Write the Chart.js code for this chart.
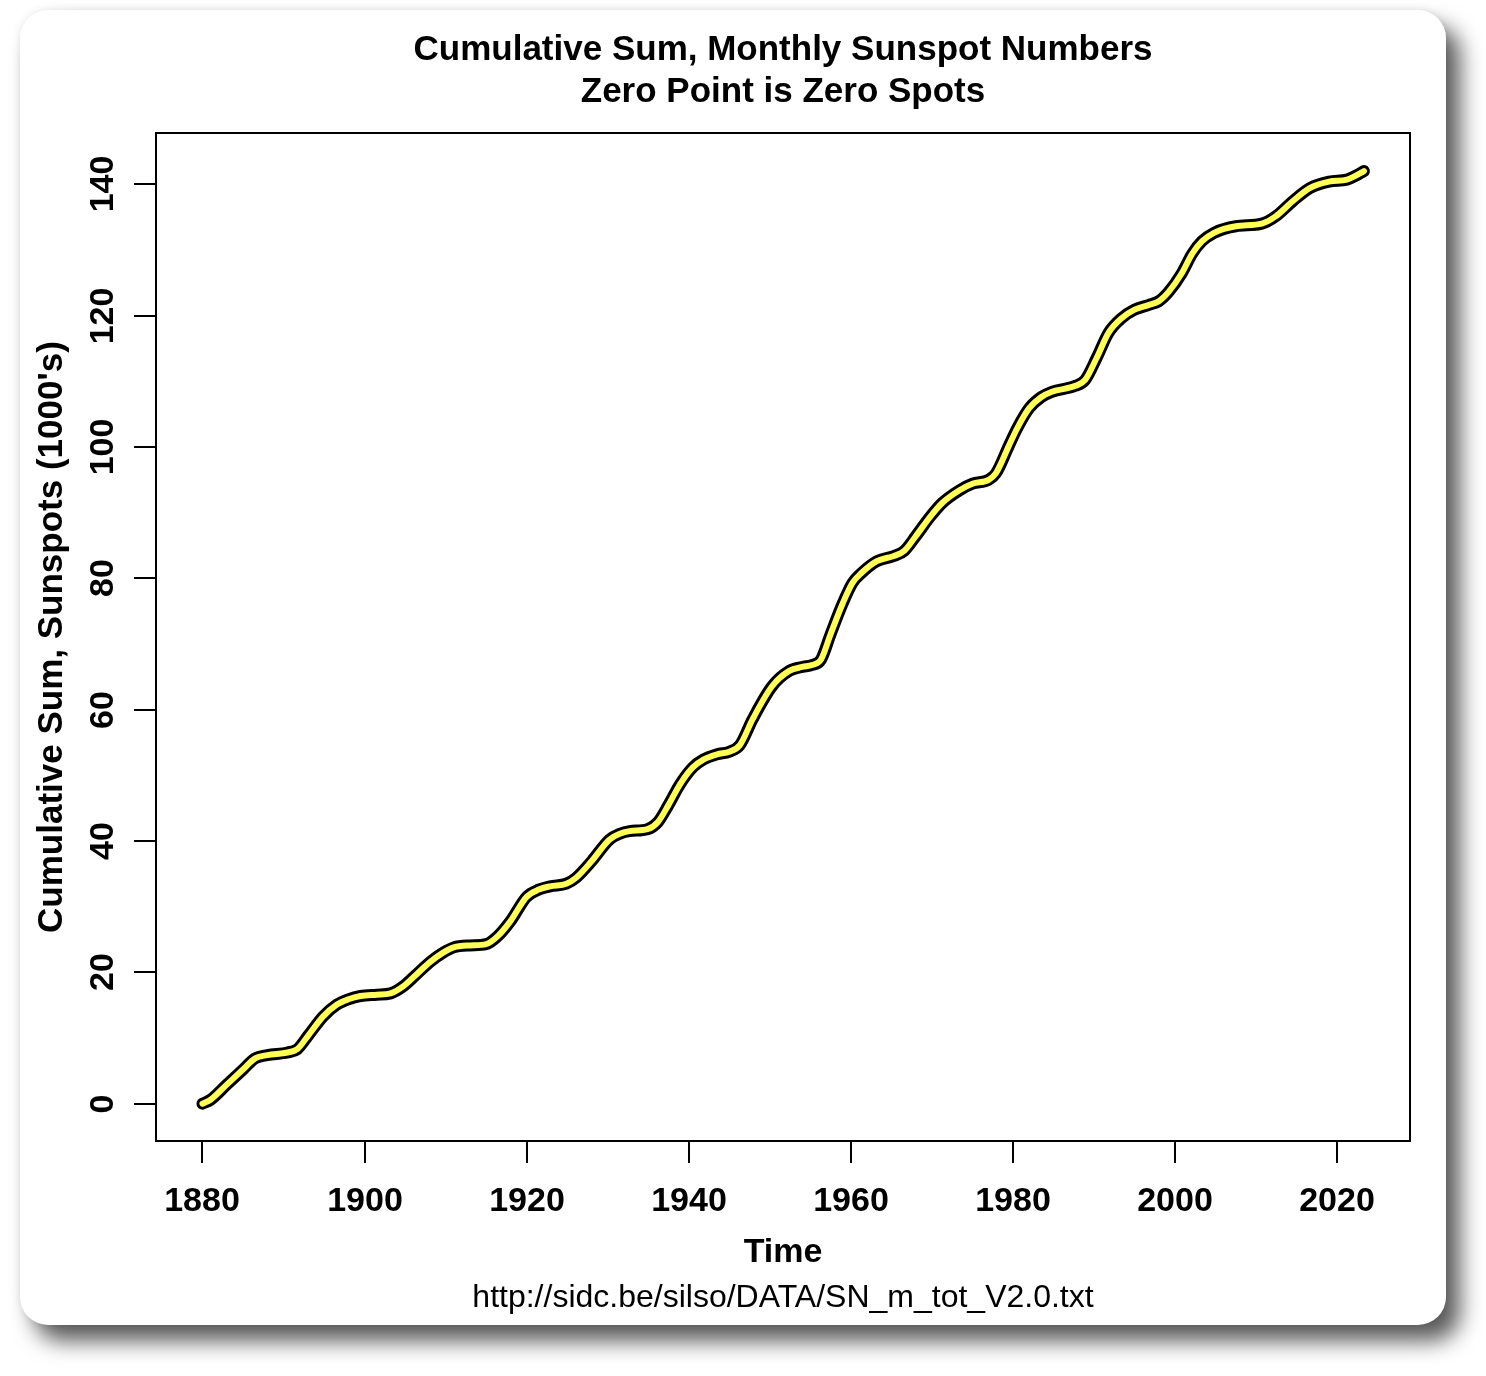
<!DOCTYPE html>
<html>
<head>
<meta charset="utf-8">
<title>Cumulative Sum, Monthly Sunspot Numbers</title>
<script src="https://cdn.jsdelivr.net/npm/chart.js@4/dist/chart.umd.min.js"></script>
<style>
  html, body { margin: 0; padding: 0; background: #ffffff; }
  body { width: 1486px; height: 1376px; position: relative; overflow: hidden; }
  #card {
    position: absolute; left: 20px; top: 10px; width: 1426px; height: 1315px;
    background: #ffffff; border-radius: 28px;
    box-shadow: 14px 16px 22px rgba(0,0,0,0.65), 0 0 8px rgba(0,0,0,0.08);
  }
  #chart { position: absolute; left: 0; top: 0; }
</style>
</head>
<body>
<div id="card"></div>
<canvas id="chart" width="1486" height="1376"></canvas>
<script>
// decimal year of each reading
const years = [
  1880, 1881, 1883, 1885, 1886.5, 1888, 1890.5, 1891.7, 1893, 1894.9,
  1896.6, 1898, 1899.5, 1901.5, 1903.2, 1904.8, 1906.5, 1908.1, 1909.7, 1911,
  1913, 1915, 1916.5, 1918, 1920, 1921.5, 1922.9, 1924.9, 1926.1, 1928,
  1930.2, 1931.5, 1932.7, 1934.9, 1936.2, 1937.5, 1938.9, 1940.5, 1941.8, 1943.5,
  1945, 1946.3, 1947.9, 1950.3, 1952.4, 1954, 1955.2, 1956.3, 1957.5, 1959,
  1960.2, 1961.3, 1963.2, 1965.3, 1966.6, 1968, 1969.8, 1971.3, 1973.4, 1975,
  1977, 1977.9, 1979.5, 1980.5, 1982, 1983.5, 1984.8, 1987.7, 1988.9, 1990.3,
  1991.8, 1993.4, 1995, 1996.7, 1998, 1999.2, 2000.8, 2002.1, 2003.3, 2004.8,
  2007.5, 2010.7, 2012.4, 2014.5, 2016.6, 2019, 2021.2, 2022.3, 2023.3
];

// cumulative sum of monthly sunspot numbers, in thousands
const cumSum = [
  0, 0.6, 2.9, 5.2, 6.9, 7.4, 7.8, 8.3, 10.3, 13.3,
  15.1, 15.9, 16.4, 16.6, 16.8, 17.9, 19.8, 21.6, 23.0, 23.8,
  24.1, 24.3, 25.6, 27.8, 31.5, 32.6, 33.1, 33.5, 34.4, 36.9,
  40.2, 41.1, 41.5, 41.8, 42.9, 45.5, 48.6, 51.2, 52.4, 53.2,
  53.6, 54.6, 58.6, 63.6, 65.9, 66.5, 66.8, 67.6, 71.5, 76.2,
  79.3, 80.8, 82.6, 83.4, 84.2, 86.4, 89.4, 91.5, 93.4, 94.4,
  95.0, 96.0, 100.2, 102.8, 105.9, 107.6, 108.4, 109.3, 110.2, 113.5,
  117.4, 119.6, 120.9, 121.6, 122.2, 123.6, 126.4, 129.4, 131.3, 132.6,
  133.6, 134.0, 135.1, 137.4, 139.4, 140.4, 140.7, 141.3, 142.0
];

const xTicks = [1880, 1900, 1920, 1940, 1960, 1980, 2000, 2020];
const yTicks = [0, 20, 40, 60, 80, 100, 120, 140];

const titleLines = ['Cumulative Sum, Monthly Sunspot Numbers', 'Zero Point is Zero Spots'];
const xTitle = 'Time';
const yTitle = "Cumulative Sum, Sunspots (1000's)";
const footnote = 'http://sidc.be/silso/DATA/SN_m_tot_V2.0.txt';

const FONT = '"Liberation Sans", Arial, Helvetica, sans-serif';

const points = years.map((y, i) => ({ x: y, y: cumSum[i] }));

// R style box, ticks and labels
const rAxes = {
  id: 'rAxes',
  afterDraw(chart) {
    const ctx = chart.ctx;
    const a = chart.chartArea;
    const xs = chart.scales.x;
    const ys = chart.scales.y;
    ctx.save();
    ctx.strokeStyle = '#000';
    ctx.lineWidth = 2;
    ctx.strokeRect(a.left, a.top, a.right - a.left, a.bottom - a.top);

    ctx.fillStyle = '#000';
    ctx.font = 'bold 34px ' + FONT;
    ctx.textAlign = 'center';
    ctx.textBaseline = 'alphabetic';
    xTicks.forEach(t => {
      const px = Math.round(xs.getPixelForValue(t));
      ctx.beginPath();
      ctx.moveTo(px, a.bottom);
      ctx.lineTo(px, a.bottom + 22);
      ctx.stroke();
      ctx.fillText(String(t), px, 1211);
    });

    yTicks.forEach(t => {
      const py = Math.round(ys.getPixelForValue(t));
      ctx.beginPath();
      ctx.moveTo(a.left, py);
      ctx.lineTo(a.left - 22, py);
      ctx.stroke();
      ctx.save();
      ctx.translate(113, py);
      ctx.rotate(-Math.PI / 2);
      ctx.fillText(String(t), 0, 0);
      ctx.restore();
    });

    const cx = (a.left + a.right) / 2;
    const cy = (a.top + a.bottom) / 2;
    ctx.font = 'bold 35px ' + FONT;
    ctx.fillText(titleLines[0], cx, 60);
    ctx.fillText(titleLines[1], cx, 102);

    ctx.font = 'bold 34px ' + FONT;
    ctx.fillText(xTitle, cx, 1262);

    ctx.font = 'bold 35px ' + FONT;
    ctx.save();
    ctx.translate(62, cy);
    ctx.rotate(-Math.PI / 2);
    ctx.fillText(yTitle, 0, 0);
    ctx.restore();

    ctx.font = '32px ' + FONT;
    ctx.fillText(footnote, cx, 1307);
    ctx.restore();
  }
};

new Chart(document.getElementById('chart'), {
  type: 'line',
  data: {
    datasets: [
      {
        data: points,
        borderColor: '#ffff55',
        borderWidth: 6,
        order: 0
      },
      {
        data: points,
        borderColor: '#000000',
        borderWidth: 12,
        order: 1
      }
    ].map(d => Object.assign({
      pointRadius: 0,
      fill: false,
      cubicInterpolationMode: 'monotone',
      borderCapStyle: 'round',
      borderJoinStyle: 'round'
    }, d))
  },
  options: {
    responsive: false,
    animation: false,
    layout: { padding: { left: 156, top: 133, right: 76, bottom: 235 } },
    plugins: { legend: { display: false }, tooltip: { enabled: false } },
    scales: {
      x: { type: 'linear', display: false, min: 1874.27, max: 2028.98 },
      y: { type: 'linear', display: false, min: -5.68, max: 147.8 }
    }
  },
  plugins: [rAxes]
});
</script>
</body>
</html>
